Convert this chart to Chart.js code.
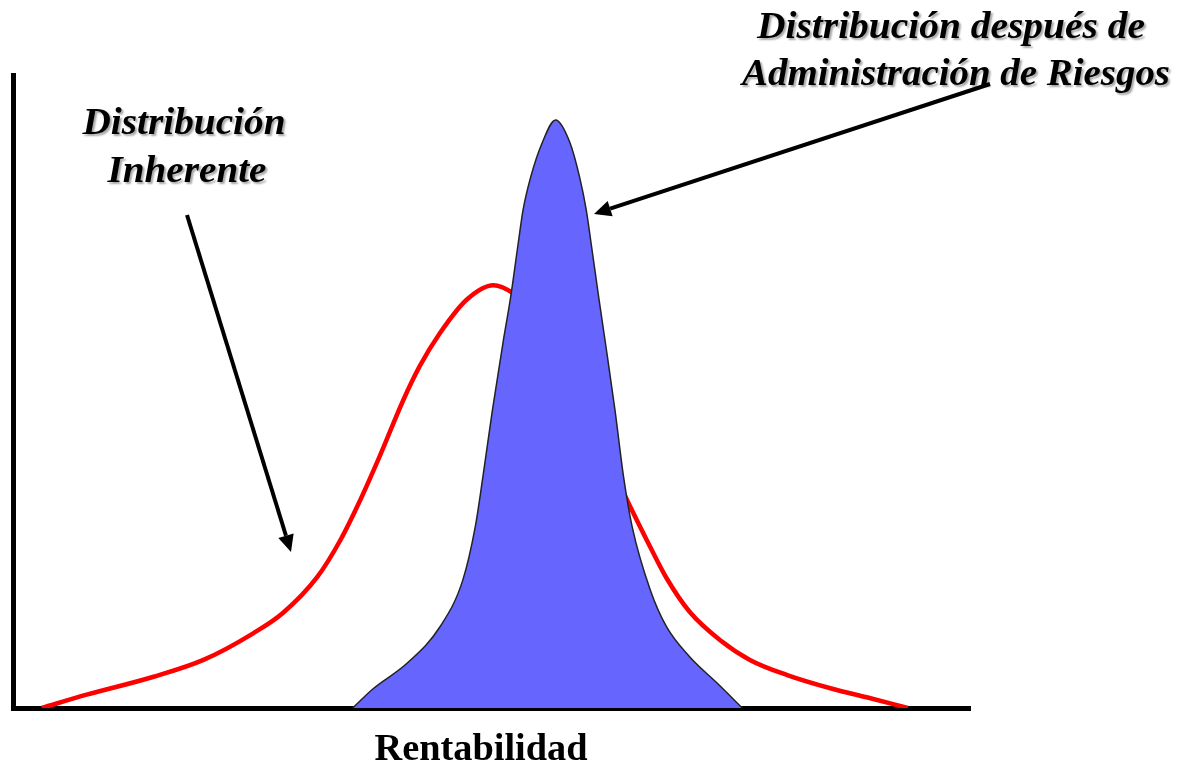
<!DOCTYPE html>
<html>
<head>
<meta charset="utf-8">
<script src="https://cdn.jsdelivr.net/npm/chart.js@4/dist/chart.umd.min.js"></script>
<style>
  body { margin: 0; background: #fff; }
  canvas { display: block; }
</style>
</head>
<body>
<canvas id="grafico" width="1185" height="763"></canvas>
<script>
// Distribución inherente (curva roja), unidades arbitrarias 0-100
const inherenteX = [3.0, 7.7, 14.6, 19.9, 25.1, 28.2, 31.8, 34.2, 36.3, 38.3, 40.8, 42.5, 44.6, 47.4, 50.2, 52.2, 55.1, 58.2, 61.3, 64.5, 66.6, 68.3, 70.7, 73.9, 77.0, 80.9, 85.7, 89.2, 93.5];
const inherenteY = [0, 2.1, 4.9, 7.6, 11.8, 15.0, 20.7, 26.5, 32.9, 39.7, 48.7, 54.0, 59.2, 64.5, 66.8, 65.6, 61.6, 52.1, 41.9, 31.8, 25.4, 20.5, 15.2, 10.7, 7.6, 5.2, 3.0, 1.7, 0];

// Distribución después de administración de riesgos (área azul)
const despuesX = [35.5, 37.6, 41.2, 44.6, 47.0, 48.3, 49.1, 50.1, 51.2, 52.0, 52.8, 53.3, 54.1, 55.3, 56.7, 58.2, 59.2, 59.9, 60.4, 61.2, 61.9, 62.9, 63.8, 64.7, 66.6, 68.3, 70.7, 73.6, 76.2];
const despuesY = [0, 3.0, 7.1, 12.8, 20.2, 28.6, 36.5, 47.1, 57.7, 64.9, 73.5, 78.7, 83.9, 89.3, 92.9, 89.3, 83.9, 78.7, 73.5, 64.9, 57.7, 47.1, 36.5, 28.6, 18.6, 12.8, 8.1, 3.9, 0];

const tituloEjeX = 'Rentabilidad';
const etiquetaInherente = ['Distribución', 'Inherente'];
const etiquetaDespues = ['Distribución después de', 'Administración de Riesgos'];

function puntos(xs, ys) {
    return xs.map((x, i) => ({ x: x, y: ys[i] }));
}

// Texto centrado, estirado horizontalmente hasta el ancho deseado
function texto(ctx, t, cx, base, ancho) {
    const w = ctx.measureText(t).width;
    ctx.save();
    ctx.translate(cx, base);
    ctx.scale(ancho / w, 1);
    ctx.fillText(t, 0, 0);
    ctx.restore();
}

// Flecha con punta triangular
function flecha(ctx, x1, y1, x2, y2) {
    const ang = Math.atan2(y2 - y1, x2 - x1);
    const largo = 17, ancho = 8;
    const bx = x2 - largo * Math.cos(ang), by = y2 - largo * Math.sin(ang);
    ctx.beginPath();
    ctx.moveTo(x1, y1);
    ctx.lineTo(bx, by);
    ctx.stroke();
    ctx.beginPath();
    ctx.moveTo(x2, y2);
    ctx.lineTo(bx + ancho * Math.sin(ang), by - ancho * Math.cos(ang));
    ctx.lineTo(bx - ancho * Math.sin(ang), by + ancho * Math.cos(ang));
    ctx.closePath();
    ctx.fill();
}

const anotaciones = {
    id: 'anotaciones',
    afterDraw(chart) {
        const ctx = chart.ctx;
        ctx.save();
        ctx.fillStyle = '#000';
        ctx.textAlign = 'center';
        ctx.textBaseline = 'alphabetic';

        // titulo del eje
        ctx.font = 'bold 38px "Liberation Serif"';
        texto(ctx, tituloEjeX, 481, 760, 213);

        // etiquetas en cursiva con sombra
        ctx.font = 'italic bold 37px "Liberation Serif"';
        ctx.shadowColor = 'rgba(0,0,0,0.35)';
        ctx.shadowOffsetX = 2;
        ctx.shadowOffsetY = 2;
        ctx.shadowBlur = 2;
        texto(ctx, etiquetaInherente[0], 184, 134, 203);
        texto(ctx, etiquetaInherente[1], 187, 182, 159);
        texto(ctx, etiquetaDespues[0], 951, 38, 388);
        texto(ctx, etiquetaDespues[1], 956, 85, 428);
        ctx.shadowColor = 'transparent';

        // flechas
        ctx.strokeStyle = '#000';
        ctx.lineWidth = 4;
        flecha(ctx, 187, 215, 291, 552);
        flecha(ctx, 990, 84, 594, 214);
        ctx.restore();
    }
};

const ctx = document.getElementById('grafico').getContext('2d');
new Chart(ctx, {
    type: 'line',
    data: {
        datasets: [{
            label: 'Después de Administración de Riesgos',
            data: puntos(despuesX, despuesY),
            borderColor: '#222222',
            borderWidth: 1.5,
            backgroundColor: '#6666ff',
            fill: 'origin',
            pointRadius: 0,
            cubicInterpolationMode: 'monotone',
            order: 0
        }, {
            label: 'Inherente',
            data: puntos(inherenteX, inherenteY),
            borderColor: '#ff0000',
            borderWidth: 4.5,
            fill: false,
            pointRadius: 0,
            cubicInterpolationMode: 'monotone',
            order: 1
        }]
    },
    options: {
        responsive: false,
        animation: false,
        layout: {
            padding: { left: 13, top: 75, right: 215, bottom: 55 }
        },
        scales: {
            x: {
                type: 'linear',
                min: 0,
                max: 100,
                grid: { display: false, drawTicks: false },
                ticks: { display: false },
                border: { display: true, color: '#000', width: 5 }
            },
            y: {
                min: 0,
                max: 100,
                grid: { display: false, drawTicks: false },
                ticks: { display: false },
                border: { display: true, color: '#000', width: 5 }
            }
        },
        plugins: {
            legend: { display: false },
            tooltip: { enabled: false }
        }
    },
    plugins: [anotaciones]
});
</script>
</body>
</html>
